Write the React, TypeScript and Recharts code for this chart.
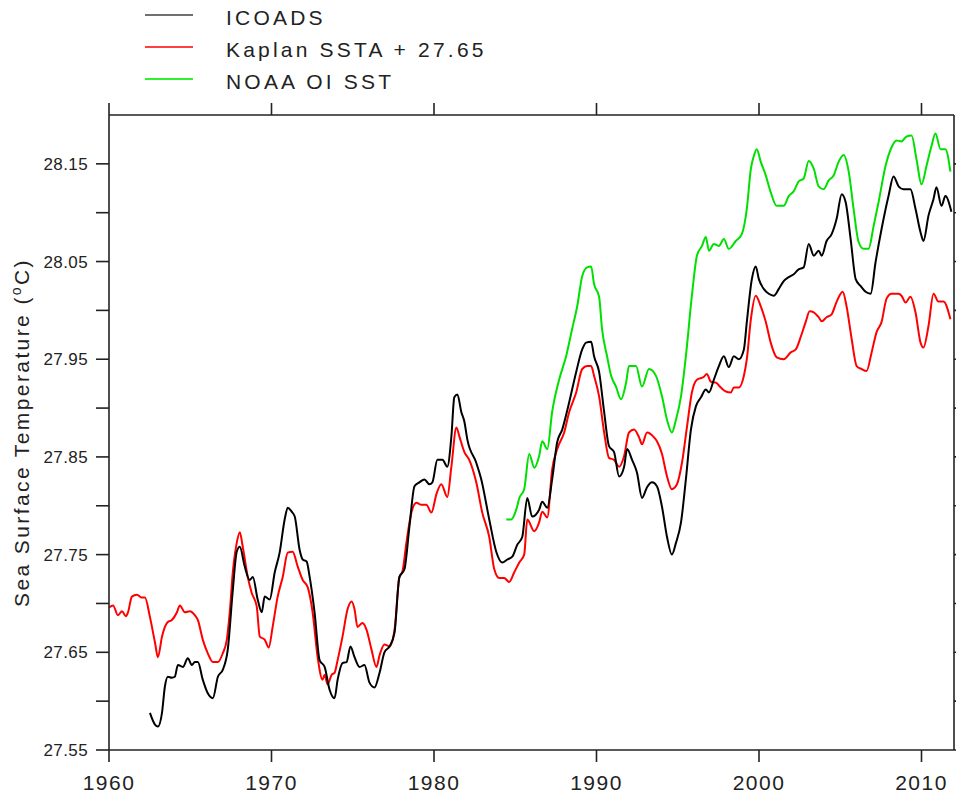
import React from 'react';
import { LineChart, Line, XAxis, YAxis, Legend } from 'recharts';

// Annual-mean smoothed sea surface temperature, [year, °C]
const icoadsSeries: [number, number][] = [
  [1962.52, 27.588], [1962.83, 27.576], [1963.01, 27.574], [1963.26, 27.588], [1963.44, 27.615],
  [1963.62, 27.625], [1963.87, 27.624], [1964.05, 27.625], [1964.24, 27.637], [1964.55, 27.635],
  [1964.85, 27.644], [1965.10, 27.637], [1965.28, 27.640], [1965.47, 27.640], [1965.77, 27.622],
  [1966.08, 27.608], [1966.39, 27.603], [1966.70, 27.625], [1967.00, 27.632], [1967.31, 27.653],
  [1967.62, 27.714], [1967.86, 27.753], [1968.05, 27.758], [1968.35, 27.738], [1968.66, 27.724],
  [1968.85, 27.727], [1969.15, 27.704], [1969.40, 27.691], [1969.58, 27.707], [1969.89, 27.704],
  [1970.20, 27.732], [1970.50, 27.752], [1970.81, 27.786], [1971.00, 27.798], [1971.24, 27.794],
  [1971.43, 27.789], [1971.73, 27.755], [1971.92, 27.745], [1972.16, 27.743], [1972.35, 27.727],
  [1972.65, 27.691], [1972.96, 27.642], [1973.27, 27.635], [1973.57, 27.612], [1973.88, 27.603],
  [1974.07, 27.622], [1974.37, 27.639], [1974.62, 27.640], [1974.86, 27.656], [1975.11, 27.645],
  [1975.42, 27.635], [1975.72, 27.637], [1976.03, 27.619], [1976.34, 27.614], [1976.65, 27.629],
  [1976.95, 27.650], [1977.26, 27.656], [1977.57, 27.670], [1977.87, 27.727], [1978.18, 27.735],
  [1978.49, 27.779], [1978.80, 27.820], [1979.10, 27.824], [1979.41, 27.827], [1979.72, 27.822],
  [1979.90, 27.824], [1980.21, 27.847], [1980.52, 27.847], [1980.82, 27.840], [1981.07, 27.871],
  [1981.25, 27.911], [1981.44, 27.914], [1981.68, 27.896], [1981.87, 27.886], [1982.05, 27.868],
  [1982.60, 27.844], [1982.91, 27.827], [1983.40, 27.786], [1983.83, 27.753], [1984.20, 27.742],
  [1984.51, 27.745], [1984.82, 27.748], [1985.12, 27.760], [1985.43, 27.768], [1985.74, 27.808],
  [1986.04, 27.789], [1986.47, 27.796], [1986.66, 27.804], [1986.97, 27.798], [1987.27, 27.827],
  [1987.58, 27.865], [1987.89, 27.878], [1988.32, 27.906], [1988.75, 27.937], [1989.12, 27.960],
  [1989.36, 27.967], [1989.67, 27.968], [1989.85, 27.953], [1990.16, 27.937], [1990.47, 27.896],
  [1990.77, 27.861], [1991.08, 27.855], [1991.39, 27.830], [1991.70, 27.840], [1991.88, 27.858],
  [1992.19, 27.847], [1992.49, 27.834], [1992.80, 27.808], [1993.11, 27.819], [1993.42, 27.824],
  [1993.72, 27.820], [1994.03, 27.799], [1994.34, 27.768], [1994.64, 27.750], [1994.89, 27.762],
  [1995.20, 27.783], [1995.50, 27.827], [1995.81, 27.878], [1996.12, 27.902], [1996.43, 27.911],
  [1996.73, 27.919], [1996.92, 27.916], [1997.22, 27.929], [1997.53, 27.943], [1997.84, 27.953],
  [1998.14, 27.942], [1998.45, 27.953], [1998.76, 27.950], [1999.07, 27.960], [1999.25, 27.988],
  [1999.56, 28.032], [1999.80, 28.045], [1999.99, 28.032], [2000.29, 28.022], [2000.60, 28.017],
  [2000.91, 28.015], [2001.22, 28.022], [2001.52, 28.030], [2001.83, 28.034], [2002.14, 28.037],
  [2002.44, 28.042], [2002.75, 28.044], [2003.06, 28.068], [2003.37, 28.056], [2003.67, 28.061],
  [2003.86, 28.056], [2004.16, 28.071], [2004.47, 28.078], [2004.78, 28.094], [2005.09, 28.119],
  [2005.33, 28.111], [2005.64, 28.073], [2005.95, 28.032], [2006.25, 28.025], [2006.56, 28.019],
  [2006.87, 28.017], [2007.17, 28.049], [2007.54, 28.083], [2007.97, 28.117], [2008.28, 28.137],
  [2008.59, 28.127], [2008.89, 28.124], [2009.32, 28.124], [2009.63, 28.104], [2009.94, 28.080],
  [2010.12, 28.071], [2010.43, 28.097], [2010.74, 28.114], [2010.92, 28.126], [2011.23, 28.107],
  [2011.47, 28.117], [2011.84, 28.101],
];

const kaplanSeries: [number, number][] = [
  [1960.00, 27.696], [1960.25, 27.698], [1960.55, 27.688], [1960.80, 27.692], [1961.04, 27.687],
  [1961.17, 27.691], [1961.41, 27.707], [1961.72, 27.709], [1962.03, 27.706], [1962.21, 27.706],
  [1962.52, 27.686], [1962.83, 27.660], [1963.01, 27.645], [1963.26, 27.666], [1963.44, 27.676],
  [1963.62, 27.681], [1963.87, 27.683], [1964.18, 27.691], [1964.36, 27.698], [1964.67, 27.691],
  [1964.98, 27.692], [1965.28, 27.688], [1965.47, 27.683], [1965.77, 27.663], [1966.08, 27.649],
  [1966.39, 27.640], [1966.70, 27.640], [1967.00, 27.649], [1967.25, 27.663], [1967.43, 27.691],
  [1967.62, 27.732], [1967.86, 27.762], [1968.05, 27.773], [1968.23, 27.758], [1968.54, 27.727],
  [1968.78, 27.711], [1969.09, 27.697], [1969.28, 27.666], [1969.58, 27.663], [1969.83, 27.655],
  [1970.07, 27.676], [1970.38, 27.707], [1970.69, 27.727], [1971.00, 27.752], [1971.30, 27.753],
  [1971.61, 27.738], [1971.92, 27.724], [1972.22, 27.717], [1972.53, 27.691], [1972.84, 27.645],
  [1973.14, 27.622], [1973.27, 27.627], [1973.45, 27.617], [1973.70, 27.627], [1973.88, 27.629],
  [1974.07, 27.642], [1974.37, 27.666], [1974.68, 27.694], [1974.93, 27.702], [1975.11, 27.694],
  [1975.29, 27.676], [1975.60, 27.680], [1975.85, 27.673], [1976.15, 27.653], [1976.46, 27.635],
  [1976.65, 27.647], [1976.95, 27.658], [1977.26, 27.656], [1977.57, 27.673], [1977.87, 27.727],
  [1978.06, 27.733], [1978.30, 27.762], [1978.61, 27.793], [1978.92, 27.803], [1979.23, 27.801],
  [1979.53, 27.801], [1979.84, 27.793], [1980.15, 27.812], [1980.45, 27.822], [1980.82, 27.809],
  [1981.07, 27.840], [1981.38, 27.880], [1981.56, 27.871], [1981.87, 27.855], [1982.17, 27.847],
  [1982.60, 27.824], [1982.97, 27.793], [1983.40, 27.768], [1983.71, 27.735], [1984.02, 27.726],
  [1984.32, 27.726], [1984.63, 27.722], [1984.94, 27.732], [1985.25, 27.742], [1985.55, 27.750],
  [1985.74, 27.786], [1986.17, 27.774], [1986.47, 27.783], [1986.66, 27.794], [1986.97, 27.788],
  [1987.27, 27.837], [1987.58, 27.858], [1988.01, 27.875], [1988.32, 27.896], [1988.75, 27.916],
  [1989.12, 27.940], [1989.42, 27.943], [1989.67, 27.943], [1989.85, 27.933], [1990.16, 27.912],
  [1990.47, 27.875], [1990.77, 27.849], [1991.08, 27.847], [1991.39, 27.840], [1991.70, 27.851],
  [1992.00, 27.875], [1992.31, 27.878], [1992.62, 27.870], [1992.80, 27.863], [1993.11, 27.875],
  [1993.54, 27.870], [1993.72, 27.866], [1994.03, 27.853], [1994.34, 27.830], [1994.64, 27.817],
  [1994.95, 27.822], [1995.26, 27.844], [1995.57, 27.881], [1995.87, 27.916], [1996.18, 27.929],
  [1996.61, 27.932], [1996.79, 27.935], [1997.04, 27.927], [1997.35, 27.926], [1997.65, 27.921],
  [1997.96, 27.917], [1998.27, 27.916], [1998.45, 27.921], [1998.76, 27.921], [1999.07, 27.933],
  [1999.25, 27.950], [1999.50, 27.991], [1999.80, 28.015], [2000.11, 28.004], [2000.42, 27.988],
  [2000.72, 27.967], [2001.09, 27.952], [2001.52, 27.950], [2001.95, 27.957], [2002.26, 27.960],
  [2002.57, 27.973], [2002.87, 27.988], [2003.12, 27.999], [2003.37, 27.998], [2003.67, 27.993],
  [2003.86, 27.989], [2004.16, 27.993], [2004.47, 27.996], [2004.78, 28.009], [2005.15, 28.019],
  [2005.39, 28.004], [2005.70, 27.971], [2006.01, 27.943], [2006.31, 27.940], [2006.62, 27.938],
  [2006.93, 27.957], [2007.24, 27.978], [2007.54, 27.988], [2007.85, 28.012], [2008.16, 28.017],
  [2008.59, 28.017], [2008.77, 28.015], [2009.02, 28.008], [2009.32, 28.014], [2009.63, 27.998],
  [2009.94, 27.967], [2010.12, 27.962], [2010.43, 27.984], [2010.74, 28.017], [2011.04, 28.009],
  [2011.35, 28.009], [2011.78, 27.991],
];

const oisstSeries: [number, number][] = [
  [1984.45, 27.786], [1984.75, 27.786], [1985.06, 27.796], [1985.25, 27.808], [1985.55, 27.817],
  [1985.86, 27.853], [1986.17, 27.839], [1986.47, 27.851], [1986.66, 27.866], [1986.97, 27.858],
  [1987.27, 27.896], [1987.70, 27.929], [1988.13, 27.953], [1988.50, 27.981], [1988.81, 28.004],
  [1989.12, 28.035], [1989.42, 28.044], [1989.67, 28.045], [1989.85, 28.027], [1990.16, 28.014],
  [1990.34, 27.981], [1990.65, 27.953], [1990.90, 27.933], [1991.20, 27.922], [1991.51, 27.909],
  [1991.82, 27.926], [1992.00, 27.943], [1992.43, 27.943], [1992.80, 27.922], [1993.23, 27.940],
  [1993.66, 27.933], [1994.03, 27.912], [1994.34, 27.888], [1994.64, 27.875], [1994.89, 27.888],
  [1995.20, 27.912], [1995.50, 27.953], [1995.87, 28.015], [1996.18, 28.056], [1996.49, 28.066],
  [1996.73, 28.075], [1996.92, 28.061], [1997.22, 28.068], [1997.53, 28.066], [1997.84, 28.073],
  [1998.14, 28.063], [1998.57, 28.071], [1998.94, 28.078], [1999.25, 28.104], [1999.50, 28.145],
  [1999.68, 28.158], [1999.86, 28.165], [2000.11, 28.152], [2000.42, 28.138], [2000.72, 28.121],
  [2001.09, 28.107], [2001.52, 28.107], [2001.83, 28.117], [2002.14, 28.122], [2002.44, 28.132],
  [2002.75, 28.135], [2003.06, 28.153], [2003.37, 28.145], [2003.67, 28.127], [2003.98, 28.124],
  [2004.29, 28.133], [2004.59, 28.138], [2004.90, 28.152], [2005.21, 28.159], [2005.52, 28.142],
  [2005.82, 28.104], [2006.13, 28.070], [2006.44, 28.063], [2006.74, 28.063], [2007.05, 28.086],
  [2007.36, 28.111], [2007.79, 28.148], [2008.16, 28.167], [2008.46, 28.174], [2008.77, 28.173],
  [2009.08, 28.178], [2009.39, 28.179], [2009.69, 28.155], [2010.00, 28.129], [2010.31, 28.148],
  [2010.61, 28.168], [2010.86, 28.181], [2011.17, 28.165], [2011.47, 28.165], [2011.78, 28.142],
];

const X_DOMAIN: [number, number] = [1960, 2012];
const X_TICKS = [1960, 1970, 1980, 1990, 2000, 2010];
const Y_DOMAIN: [number, number] = [27.55, 28.2];
const Y_TICKS = [27.55, 27.6, 27.65, 27.7, 27.75, 27.8, 27.85, 27.9, 27.95, 28.0, 28.05, 28.1, 28.15];
const Y_TICK_LABELS = ['27.55', '27.65', '27.75', '27.85', '27.95', '28.05', '28.15'];

const SERIES_NAMES = ['ICOADS', 'Kaplan SSTA + 27.65', 'NOAA OI SST'];
const SERIES_COLORS = ['#000000', '#ff0000', '#00e000'];
const LEGEND_SWATCH = ['#707070', '#ff4040', '#30f030'];

const toRows = (s: [number, number][]) => s.map(([year, v]) => ({ year, v }));

const FONT = '"Liberation Sans", Arial, Helvetica, sans-serif';
const AXIS_COLOR = '#222';

const LegendBox = ({ payload }: any) => {
  const items = (payload && payload.length ? payload : SERIES_NAMES.map((n, i) => ({ value: n, color: SERIES_COLORS[i] })));
  const ordered = [...items].sort((a: any, b: any) => SERIES_NAMES.indexOf(a.value) - SERIES_NAMES.indexOf(b.value));
  return (
    <div style={{ position: 'relative', fontFamily: FONT }}>
      {ordered.map((p: any, i: number) => {
        const idx = SERIES_NAMES.indexOf(p.value);
        return (
          <div
            key={p.value}
            style={{ position: 'absolute', top: -1 + i * 32, left: 0, height: 32, display: 'flex', alignItems: 'center', whiteSpace: 'nowrap' }}
          >
            <svg width={48} height={32} style={{ display: 'block' }}>
              <line x1={0} x2={48} y1={16} y2={16} stroke={idx >= 0 ? LEGEND_SWATCH[idx] : p.color} strokeWidth={2} />
            </svg>
            <span style={{ marginLeft: 33, fontSize: 21, letterSpacing: 3.2, color: '#222', position: 'relative', top: 3 }}>
              {p.value}
            </span>
          </div>
        );
      })}
    </div>
  );
};

const YTitle = (props: any) => {
  const vb = props.viewBox || { x: 0, y: 115, width: 109, height: 635 };
  const cy = vb.y + vb.height / 2;
  const cx = 29;
  return (
    <text
      x={cx}
      y={cy}
      transform={`rotate(-90 ${cx} ${cy})`}
      textAnchor="middle"
      fontFamily={FONT}
      fontSize={21}
      letterSpacing={2.4}
      fill="#222"
    >
      Sea Surface Temperature (
      <tspan fontSize={14} dy={-8}>o</tspan>
      <tspan dy={8}>C)</tspan>
    </text>
  );
};

export default function App() {
  return (
    <div style={{ marginLeft: -8, marginTop: -8, marginBottom: -8, width: 964, height: 798, background: '#fff', fontFamily: FONT }}>
      <LineChart width={964} height={798} margin={{ top: 103, right: 0, bottom: 0, left: 0 }}>
        <XAxis
          xAxisId="bottom"
          type="number"
          dataKey="year"
          domain={X_DOMAIN}
          ticks={X_TICKS}
          allowDataOverflow
          height={48}
          tickSize={12}
          tickMargin={13}
          stroke={AXIS_COLOR}
          strokeWidth={1.6}
          tick={{ fill: '#222', fontSize: 21, letterSpacing: 1.5, fontFamily: FONT }}
        />
        <XAxis
          xAxisId="top"
          orientation="top"
          type="number"
          dataKey="year"
          domain={X_DOMAIN}
          ticks={X_TICKS}
          allowDataOverflow
          height={12}
          tickSize={12}
          tickFormatter={() => ''}
          stroke={AXIS_COLOR}
          strokeWidth={1.6}
        />
        <YAxis
          yAxisId="left"
          type="number"
          domain={Y_DOMAIN}
          ticks={Y_TICKS}
          allowDataOverflow
          width={109}
          tickSize={13}
          tickMargin={8}
          stroke={AXIS_COLOR}
          strokeWidth={1.6}
          tick={{ fill: '#222', fontSize: 17, letterSpacing: 0.4, fontFamily: FONT }}
          tickFormatter={(v: number) => (Y_TICK_LABELS.includes(v.toFixed(2)) ? v.toFixed(2) : '')}
          label={{ content: (p: any) => <YTitle {...p} /> }}
        />
        <YAxis
          yAxisId="right"
          orientation="right"
          type="number"
          domain={Y_DOMAIN}
          ticks={Y_TICKS}
          allowDataOverflow
          width={10}
          tickSize={11}
          tickFormatter={() => ''}
          stroke={AXIS_COLOR}
          strokeWidth={1.6}
        />
        <Legend
          layout="vertical"
          align="center"
          verticalAlign="middle"
          wrapperStyle={{ top: 0, left: 145, width: 420, height: 100, bottom: 'auto', right: 'auto' }}
          content={<LegendBox />}
        />
        <Line
          xAxisId="bottom"
          yAxisId="left"
          data={toRows(kaplanSeries)}
          dataKey="v"
          name={SERIES_NAMES[1]}
          stroke={SERIES_COLORS[1]}
          strokeWidth={2}
          dot={false}
          type="monotone"
          isAnimationActive={false}
        />
        <Line
          xAxisId="bottom"
          yAxisId="left"
          data={toRows(oisstSeries)}
          dataKey="v"
          name={SERIES_NAMES[2]}
          stroke={SERIES_COLORS[2]}
          strokeWidth={2}
          dot={false}
          type="monotone"
          isAnimationActive={false}
        />
        <Line
          xAxisId="bottom"
          yAxisId="left"
          data={toRows(icoadsSeries)}
          dataKey="v"
          name={SERIES_NAMES[0]}
          stroke={SERIES_COLORS[0]}
          strokeWidth={2}
          dot={false}
          type="monotone"
          isAnimationActive={false}
        />
      </LineChart>
    </div>
  );
}
